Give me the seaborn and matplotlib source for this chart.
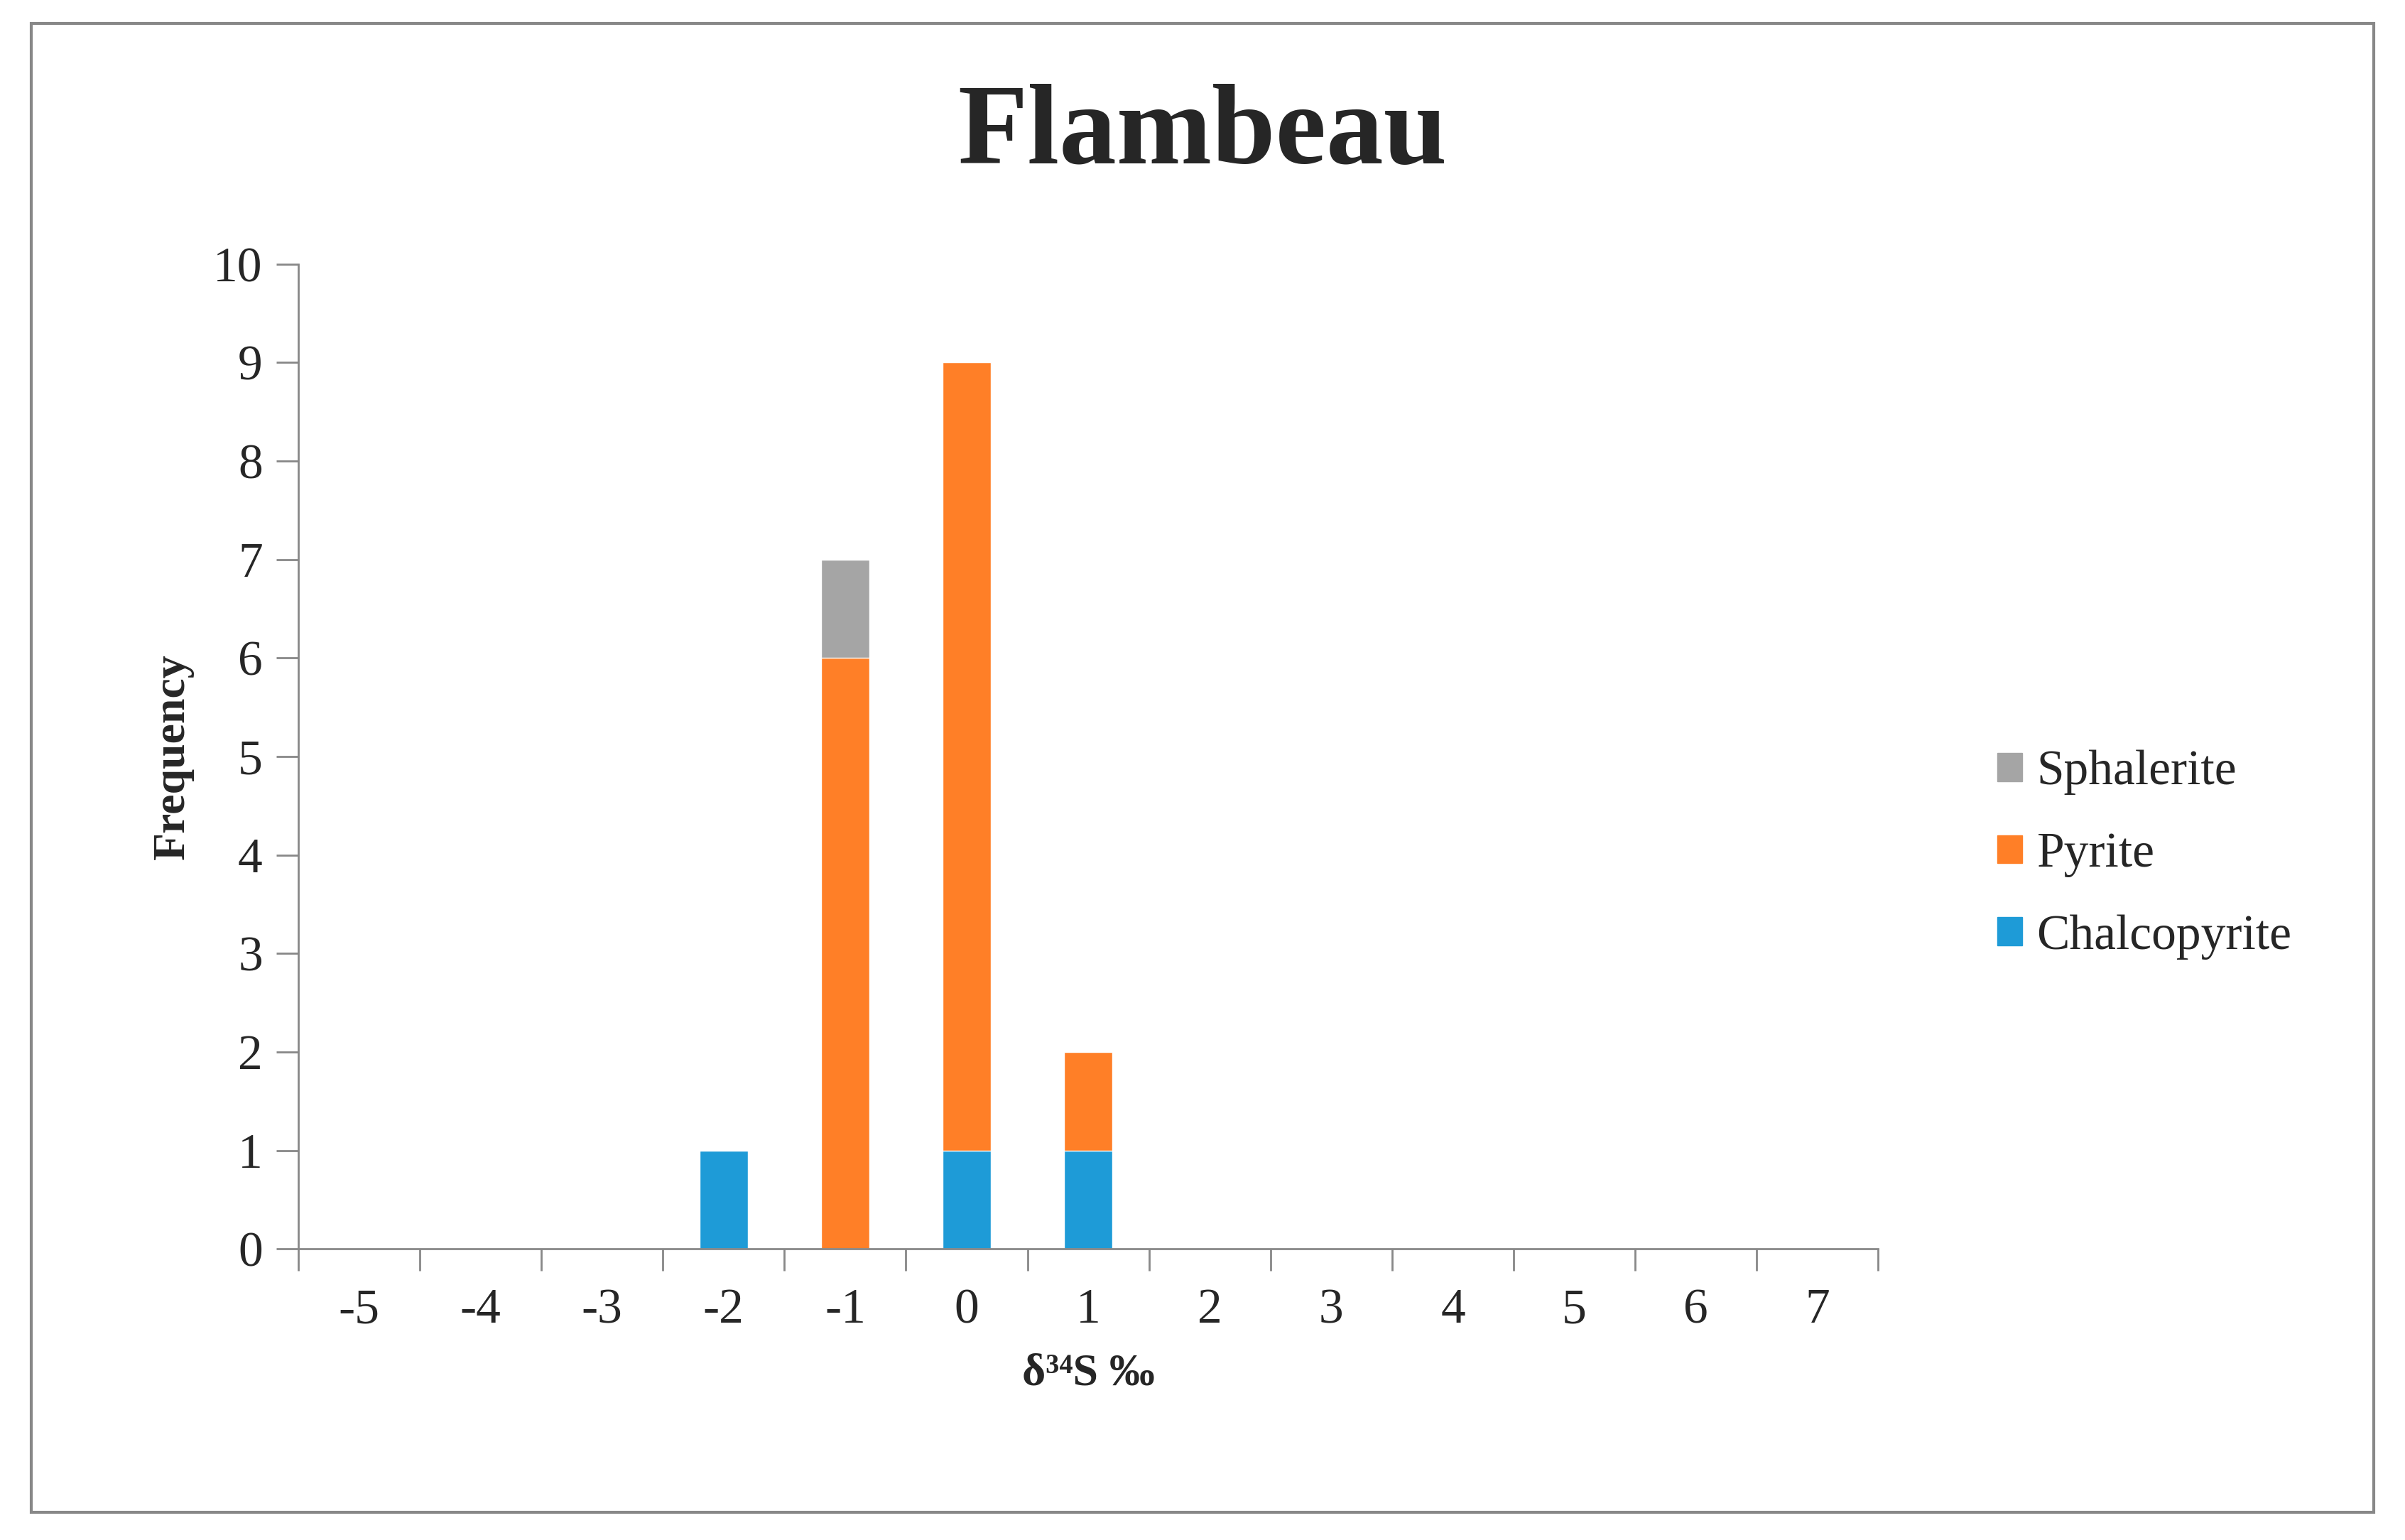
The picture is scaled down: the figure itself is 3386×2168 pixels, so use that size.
import matplotlib
matplotlib.use("Agg")
import matplotlib.pyplot as plt
import seaborn as sns
import pandas as pd
import numpy as np
from matplotlib.patches import Rectangle, Patch

categories = ["-5","-4","-3","-2","-1","0","1","2","3","4","5","6","7"]
chalcopyrite = [0,0,0,1,0,1,1,0,0,0,0,0,0]
pyrite       = [0,0,0,0,6,8,1,0,0,0,0,0,0]
sphalerite   = [0,0,0,0,1,0,0,0,0,0,0,0,0]
colors = {"Sphalerite": "#A5A5A5", "Pyrite": "#FF7F27", "Chalcopyrite": "#1E9BD7"}

sns.set_theme(style="white")
plt.rcParams['font.family'] = ['Liberation Serif', 'DejaVu Serif']

fig = plt.figure(figsize=(33.86, 21.68), dpi=100)
ax = fig.add_axes([0.124, 0.189, 0.657, 0.6395])

c1 = np.array(chalcopyrite)
c2 = c1 + np.array(pyrite)
c3 = c2 + np.array(sphalerite)
for vals, name in [(c3, "Sphalerite"), (c2, "Pyrite"), (c1, "Chalcopyrite")]:
    df = pd.DataFrame({"x": categories, "y": vals})
    sns.barplot(data=df, x="x", y="y", color=colors[name], width=0.4,
                saturation=1, ax=ax, order=categories)

ax.set_xlim(-0.5, 12.5)
ax.set_ylim(0, 10)
ax.set_yticks(range(0, 11))
ax.tick_params(axis='y', labelsize=50, length=22, width=2, color='#888888', left=True, direction='out', pad=14)
ax.set_xticks(np.arange(-0.5, 13, 1), minor=True)
ax.tick_params(axis='x', which='major', length=0, labelsize=50, pad=40)
ax.tick_params(axis='x', which='minor', length=22, width=2, color='#888888', bottom=True, direction='out')
for s in ["top", "right"]:
    ax.spines[s].set_visible(False)
for s in ["left", "bottom"]:
    ax.spines[s].set_color('#888888')
    ax.spines[s].set_linewidth(2)
ax.set_xlabel("δ³⁴S ‰", fontsize=46, fontweight='bold', labelpad=20)
ax.set_ylabel("Frequency", fontsize=46, fontweight='bold', labelpad=20)
fig.text(0.5, 0.912, "Flambeau", ha='center', va='center', fontsize=116, fontweight='bold')

handles = [Patch(color=colors[n]) for n in ["Sphalerite", "Pyrite", "Chalcopyrite"]]
fig.legend(handles, ["Sphalerite", "Pyrite", "Chalcopyrite"], loc='center left',
           bbox_to_anchor=(0.812, 0.445), frameon=False, fontsize=50,
           handlelength=0.5, handleheight=0.5, handletextpad=0.3, labelspacing=0.75)

fig.patches.append(Rectangle((0.013, 0.018), 0.974, 0.967, transform=fig.transFigure,
                             fill=False, edgecolor='#888888', linewidth=3))
fig.savefig("out.png", dpi=100)
